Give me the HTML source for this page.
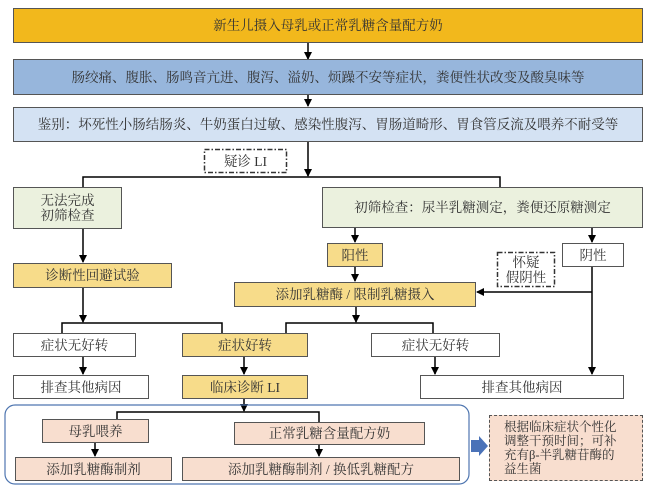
<!DOCTYPE html>
<html><head><meta charset="utf-8"><style>
body{margin:0;width:653px;height:487px;background:#fff;position:relative;overflow:hidden;font-family:"Liberation Serif","Noto Serif CJK SC","Noto Sans CJK SC",serif;color:#333;}
.b{position:absolute;box-sizing:border-box;border:1px solid #555;display:flex;align-items:center;justify-content:center;text-align:center;font-size:13.5px;line-height:15px;white-space:nowrap}
.g{background:#ebf1de}.y{background:#f7dc8a}.p{background:#f8decf}.w{background:#fff}
svg{position:absolute;left:0;top:0}
</style></head><body>
<svg width="653" height="487">
<defs><marker id="a" markerWidth="8" markerHeight="8" refX="7" refY="4" orient="auto" markerUnits="userSpaceOnUse"><path d="M0,0 L8,4 L0,8z" fill="#000"/></marker></defs>
<g stroke="#000" stroke-width="1.5" fill="none">
<line x1="308" y1="43" x2="308" y2="59" marker-end="url(#a)"/>
<line x1="308" y1="95" x2="308" y2="106" marker-end="url(#a)"/>
<line x1="308" y1="142" x2="308" y2="176" marker-end="url(#a)"/>
<path d="M83,187 V177 H500 V187"/>
<line x1="83" y1="229" x2="83" y2="262" marker-end="url(#a)"/>
<line x1="355" y1="228" x2="355" y2="242" marker-end="url(#a)"/>
<line x1="592" y1="228" x2="592" y2="242" marker-end="url(#a)"/>
<line x1="355" y1="267" x2="355" y2="281" marker-end="url(#a)"/>
<line x1="592" y1="267" x2="592" y2="374" marker-end="url(#a)"/>
<line x1="592" y1="292" x2="477" y2="292" marker-end="url(#a)"/>
<line x1="83" y1="288" x2="83" y2="322" marker-end="url(#a)"/>
<path d="M62,333 V323 H222 V333"/>
<line x1="356" y1="307" x2="356" y2="322" marker-end="url(#a)"/>
<path d="M286,333 V323 H433 V333"/>
<line x1="83" y1="357" x2="83" y2="374" marker-end="url(#a)"/>
<line x1="244" y1="357" x2="244" y2="374" marker-end="url(#a)"/>
<line x1="435" y1="357" x2="435" y2="374" marker-end="url(#a)"/>
<line x1="244" y1="399" x2="244" y2="411" marker-end="url(#a)"/>
<path d="M117,419 V412 H319 V422"/>
<line x1="95" y1="443" x2="95" y2="456" marker-end="url(#a)"/>
<line x1="319" y1="445" x2="319" y2="456" marker-end="url(#a)"/>
</g>
<g fill="none" stroke="#333" stroke-width="1.5" stroke-dasharray="5,2,1.5,2">
<rect x="204.5" y="149.5" width="82" height="23"/>
<rect x="497.5" y="252.5" width="57" height="34"/>
</g>
<rect x="5" y="405" width="464" height="79" rx="10" fill="none" stroke="#4f76b0" stroke-width="1.2"/>
<path d="M471,440 H479 V436 L488,446 L479,456 V452 H471z" fill="#4a72b8"/>
</svg>
<div class="b" style="left:13px;top:8px;width:630px;height:35px;background:#f2b81c">新生儿摄入母乳或正常乳糖含量配方奶</div>
<div class="b" style="left:13px;top:59px;width:630px;height:36px;background:#97b6dc">肠绞痛、腹胀、肠鸣音亢进、腹泻、溢奶、烦躁不安等症状，粪便性状改变及酸臭味等</div>
<div class="b" style="left:13px;top:107px;width:630px;height:35px;background:#d4e2f3">鉴别：坏死性小肠结肠炎、牛奶蛋白过敏、感染性腹泻、胃肠道畸形、胃食管反流及喂养不耐受等</div>
<div class="b" style="left:204px;top:149px;width:83px;height:24px;border:none">疑诊 LI</div>
<div class="b g" style="left:13px;top:187px;width:109px;height:42px">无法完成<br>初筛检查</div>
<div class="b g" style="left:322px;top:187px;width:321px;height:41px">初筛检查：尿半乳糖测定，粪便还原糖测定</div>
<div class="b y" style="left:327px;top:243px;width:56px;height:24px">阳性</div>
<div class="b w" style="left:562px;top:243px;width:62px;height:24px">阴性</div>
<div class="b y" style="left:13px;top:263px;width:159px;height:25px">诊断性回避试验</div>
<div class="b" style="left:497px;top:252px;width:58px;height:35px;border:none">怀疑<br>假阴性</div>
<div class="b y" style="left:234px;top:282px;width:242px;height:25px">添加乳糖酶 / 限制乳糖摄入</div>
<div class="b w" style="left:13px;top:333px;width:123px;height:24px">症状无好转</div>
<div class="b y" style="left:182px;top:333px;width:126px;height:24px">症状好转</div>
<div class="b w" style="left:371px;top:333px;width:129px;height:24px">症状无好转</div>
<div class="b w" style="left:13px;top:375px;width:136px;height:24px">排查其他病因</div>
<div class="b y" style="left:182px;top:375px;width:126px;height:24px">临床诊断 LI</div>
<div class="b w" style="left:420px;top:375px;width:204px;height:24px">排查其他病因</div>
<div class="b p" style="left:42px;top:419px;width:107px;height:24px">母乳喂养</div>
<div class="b p" style="left:234px;top:422px;width:191px;height:23px">正常乳糖含量配方奶</div>
<div class="b p" style="left:15px;top:457px;width:157px;height:24px">添加乳糖酶制剂</div>
<div class="b p" style="left:182px;top:457px;width:278px;height:24px">添加乳糖酶制剂 / 换低乳糖配方</div>
<div class="b p" style="left:489px;top:415px;width:154px;height:66px;border:1px dashed #555;justify-content:flex-start;text-align:left;padding-left:14px;font-size:12.5px;line-height:14px">根据临床症状个性化<br>调整干预时间；可补<br>充有β-半乳糖苷酶的<br>益生菌</div>
</body></html>
